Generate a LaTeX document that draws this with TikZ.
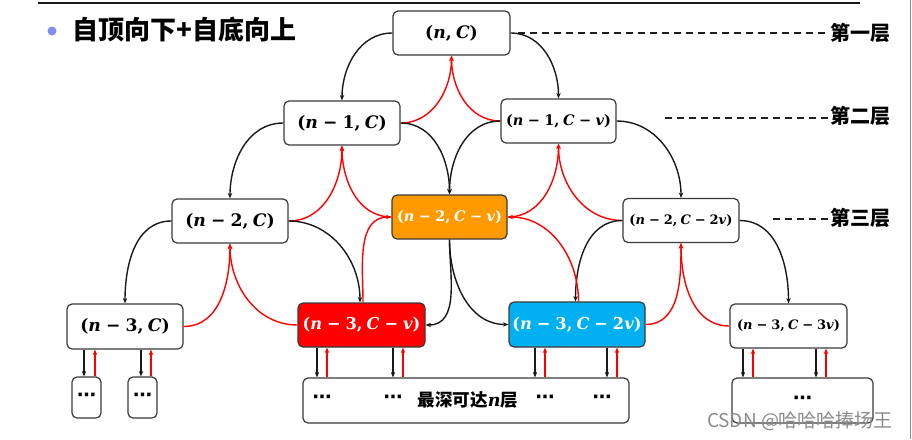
\documentclass[tikz,border=0pt]{standalone}
\usepackage{fontspec}
\newfontfamily\cjk{Noto Sans CJK SC}
\newfontfamily\dv{DejaVu Sans}
\newfontfamily\mf{DejaVu Serif}
\usetikzlibrary{arrows.meta,calc}
\definecolor{nodeorange}{HTML}{FF9900}
\definecolor{nodered}{HTML}{FF0000}
\definecolor{nodeblue}{HTML}{00B0F0}
\definecolor{bulletblue}{HTML}{7E8FEF}
\definecolor{edgegray}{HTML}{3A3A3A}
\definecolor{wmgray}{HTML}{8A8A8A}
\newcommand\vi[1]{\textit{#1}}
\newcommand\mi{\hspace{0.3em}−\hspace{0.3em}}
\newcommand\cm{,\hspace{0.25em}}
\newcommand\dts{{\dv\bfseries ⋯}}
\begin{document}
\begin{tikzpicture}[x=1pt,y=-1pt,
  box/.style={draw=edgegray,line width=1.2pt,rounded corners=5pt,fill=white,inner sep=0pt,align=center},
  bigtxt/.style={font={\mf\bfseries\fontsize{17.2}{19}\selectfont}},
  midtxt/.style={font={\mf\bfseries\fontsize{14.5}{16}\selectfont}},
  smalltxt/.style={font={\mf\bfseries\fontsize{13}{14}\selectfont}},
  colortxt/.style={font={\mf\bfseries\fontsize{16.3}{18}\selectfont}},
  down/.style={draw=black!90,line width=1.4pt,-{Stealth[length=5.5pt,width=4.5pt]}},
  up/.style={draw=nodered,line width=1.4pt,-{Stealth[length=5.5pt,width=4.5pt]}},
  lvl/.style={draw=black!88,dash pattern=on 7pt off 5pt,line width=1.4pt},
  lbl/.style={font={\cjk\bfseries\fontsize{20}{22}\selectfont},anchor=west,inner sep=2pt},
  dotstxt/.style={font={\fontsize{19}{21}\selectfont},inner sep=0pt}
]
\useasboundingbox (0,0) rectangle (912,439);

% frame lines and title
\draw[line width=2.5pt,black!90] (38,3) -- (860,3);
\draw[line width=0.8pt,black!45] (910,0) -- (910,439);
\fill[bulletblue] (52,31) circle (4.5pt);
\node[font={\cjk\bfseries\fontsize{26}{28}\selectfont},anchor=west,inner sep=0pt] (title) at (72,30) {自顶向下+自底向上};

% nodes
\node[box,bigtxt,minimum width=117pt,minimum height=44pt] (nc) at (451.5,33) {(\vi{n}\cm\vi{C})};
\node[box,bigtxt,minimum width=116pt,minimum height=44pt] (n1c) at (342,123) {(\vi{n}\mi1\cm\vi{C})};
\node[box,midtxt,minimum width=115pt,minimum height=44pt] (n1cv) at (558.5,121) {(\vi{n}\mi1\cm\vi{C}\mi\vi{v})};
\node[box,bigtxt,minimum width=116pt,minimum height=44pt] (n2c) at (230,221) {(\vi{n}\mi2\cm\vi{C})};
\node[box,midtxt,minimum width=115pt,minimum height=44pt,fill=nodeorange,text=white] (n2cv) at (449.5,217) {(\vi{n}\mi2\cm\vi{C}\mi\vi{v})};
\node[box,smalltxt,minimum width=116pt,minimum height=44pt] (n2c2v) at (681,220.5) {(\vi{n}\mi2\cm\vi{C}\mi2\vi{v})};
\node[box,bigtxt,minimum width=116pt,minimum height=45pt] (n3c) at (125,326.5) {(\vi{n}\mi3\cm\vi{C})};
\node[box,colortxt,minimum width=127pt,minimum height=44pt,fill=nodered,text=white] (n3cv) at (361.5,325) {(\vi{n}\mi3\cm\vi{C}\mi\vi{v})};
\node[box,colortxt,minimum width=136pt,minimum height=45pt,fill=nodeblue,text=white] (n3c2v) at (577,324.5) {(\vi{n}\mi3\cm\vi{C}\mi2\vi{v})};
\node[box,smalltxt,minimum width=117pt,minimum height=44pt] (n3c3v) at (788.5,326) {(\vi{n}\mi3\cm\vi{C}\mi3\vi{v})};

\node[box,dotstxt,minimum width=29pt,minimum height=41pt] (d1) at (86.5,397.5) {\dts};
\node[box,dotstxt,minimum width=29pt,minimum height=41pt] (d2) at (142.5,397.5) {\dts};
\node[box,minimum width=326pt,minimum height=45pt] (big) at (466,400.5) {};
\node[box,dotstxt,minimum width=141pt,minimum height=45pt] (d3) at (802.5,400.5) {\dts};

\node[dotstxt] (bd1) at (322,399) {\dts};
\node[dotstxt] (bd2) at (393,399) {\dts};
\node[font={\cjk\bfseries\fontsize{17.5}{19}\selectfont},inner sep=0pt] (bigt) at (468,400) {最深可达{\mf\bfseries\itshape n}层};
\node[dotstxt] (bd3) at (545,399) {\dts};
\node[dotstxt] (bd4) at (602,399) {\dts};

% level labels
\node[lbl] (L1) at (828,33) {第一层};
\node[lbl] (L2) at (828,116) {第二层};
\node[lbl] (L3) at (828,218) {第三层};
\coordinate (s2) at (665,118);
\coordinate (s3) at (773,219);
\draw[lvl] ([xshift=7pt]nc.east) -- (L1.west);
\draw[lvl] (s2) -- (s2 -| L2.west);
\draw[lvl] (s3) -- (s3 -| L3.west);

% level 1 -> 2
\draw[down] (nc.west) to[out=180,in=90] (n1c.north);
\draw[down] (nc.east) to[out=0,in=90] (n1cv.north);
\draw[up] (n1c.east) to[out=0,in=-90] (nc.south);
\draw[up] (n1cv.west) to[out=180,in=-90] (nc.south);

% level 2 -> 3
\draw[down] (n1c.west) to[out=180,in=90] (n2c.north);
\draw[down] (n1c.east) to[out=0,in=90] (n2cv.north);
\draw[down] (n1cv.west) to[out=180,in=90] (n2cv.north);
\draw[down] (n1cv.east) to[out=0,in=90] (n2c2v.north);
\draw[up] (n2c.east) to[out=0,in=-90] (n1c.south);
\draw[up] (n2cv.west) to[out=180,in=-90] (n1c.south);
\draw[up] (n2cv.east) to[out=0,in=-90] (n1cv.south);
\draw[up] (n2c2v.west) to[out=180,in=-90] (n1cv.south);

% level 3 -> 4
\draw[down] (n2c.west) to[out=180,in=90] (n3c.north);
\draw[down] (n2c.east) to[out=0,in=90] ([xshift=-1.5pt]n3cv.north);
\draw[down] (n2cv.south) to[out=-90,in=0] (n3cv.east);
\draw[down] (n2cv.south) to[out=-90,in=180] (n3c2v.west);
\draw[down] (n2c2v.west) to[out=180,in=90] ([xshift=-1.5pt]n3c2v.north);
\draw[down] (n2c2v.east) to[out=0,in=90] (n3c3v.north);
\draw[up] (n3c.east) to[out=0,in=-90] (n2c.south);
\draw[up] (n3cv.west) to[out=180,in=-90] (n2c.south);
\draw[up] ([xshift=1.5pt]n3cv.north) to[out=90,in=180] (n2cv.west);
\draw[up] ([xshift=1.5pt]n3c2v.north) to[out=90,in=0] (n2cv.east);
\draw[up] (n3c2v.east) to[out=0,in=-90] (n2c2v.south);
\draw[up] (n3c3v.west) to[out=180,in=-90] (n2c2v.south);

% bottom links
\draw[down] (n3c.south -| 84,0) -- (d1.north -| 84,0);
\draw[up] (d1.north -| 95,0) -- (n3c.south -| 95,0);
\draw[down] (n3c.south -| 141,0) -- (d2.north -| 141,0);
\draw[up] (d2.north -| 151,0) -- (n3c.south -| 151,0);
\draw[down] (n3cv.south -| 317,0) -- (big.north -| 317,0);
\draw[up] (big.north -| 327,0) -- (n3cv.south -| 327,0);
\draw[down] (n3cv.south -| 393,0) -- (big.north -| 393,0);
\draw[up] (big.north -| 403,0) -- (n3cv.south -| 403,0);
\draw[down] (n3c2v.south -| 535,0) -- (big.north -| 535,0);
\draw[up] (big.north -| 545,0) -- (n3c2v.south -| 545,0);
\draw[down] (n3c2v.south -| 607,0) -- (big.north -| 607,0);
\draw[up] (big.north -| 617,0) -- (n3c2v.south -| 617,0);
\draw[down] (n3c3v.south -| 743,0) -- (d3.north -| 743,0);
\draw[up] (d3.north -| 753,0) -- (n3c3v.south -| 753,0);
\draw[down] (n3c3v.south -| 816,0) -- (d3.north -| 816,0);
\draw[up] (d3.north -| 826,0) -- (n3c3v.south -| 826,0);

% watermark
\node[font={\cjk\fontsize{19}{21}\selectfont},text=wmgray,inner sep=0pt] (wm) at (800,421) {CSDN @哈哈哈捧场王};
\end{tikzpicture}
\end{document}
